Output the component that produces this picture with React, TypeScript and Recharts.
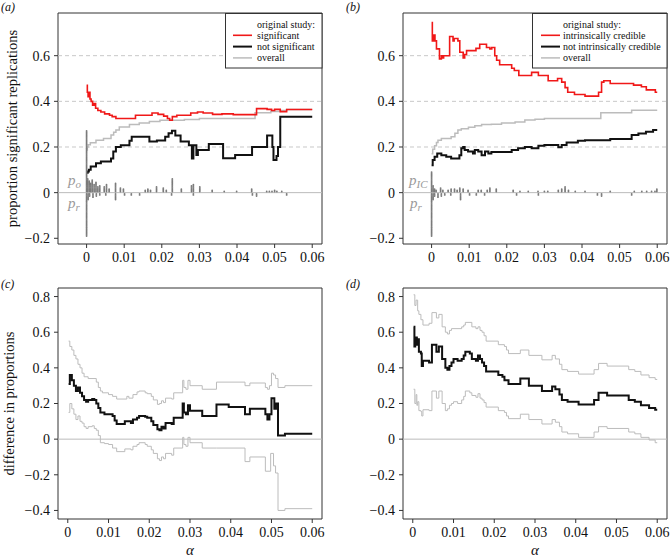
import React from 'react';
import { ComposedChart, Line, Scatter, XAxis, YAxis, ReferenceLine, ReferenceArea } from 'recharts';

type Pair = [number, number];

const alphaTicks = [0, 0.01, 0.02, 0.03, 0.04, 0.05, 0.06];
const propTicks = [-0.2, 0, 0.2, 0.4, 0.6];
const diffTicks = [-0.4, -0.2, 0, 0.2, 0.4, 0.6, 0.8];
const dashedLevels = [0.2, 0.4, 0.6];

// (a) proportion of significant replications, by significance of original study
const sigA: Pair[] = [
  [0, 0.47], [0.0002, 0.44], [0.0004, 0.42], [0.0007, 0.44], [0.0009, 0.41], [0.0012, 0.40],
  [0.0016, 0.383], [0.002, 0.39], [0.0024, 0.37], [0.003, 0.36], [0.0038, 0.353], [0.0048, 0.345],
  [0.0061, 0.339], [0.0068, 0.333], [0.0078, 0.325], [0.013, 0.339], [0.0174, 0.349], [0.019, 0.343],
  [0.0205, 0.335], [0.0215, 0.325], [0.0221, 0.317], [0.0228, 0.333], [0.024, 0.339], [0.0277, 0.349],
  [0.0295, 0.353], [0.031, 0.349], [0.0335, 0.343], [0.036, 0.345], [0.039, 0.342], [0.0452, 0.368],
  [0.048, 0.365], [0.0492, 0.36], [0.05, 0.365], [0.0515, 0.355], [0.0532, 0.364], [0.06, 0.364],
];
const notSigA: Pair[] = [
  [0, 0.087], [0.0003, 0.093], [0.0006, 0.1], [0.0011, 0.115], [0.0025, 0.129], [0.0038, 0.136],
  [0.0065, 0.15], [0.0071, 0.18], [0.0078, 0.2], [0.0091, 0.208], [0.0114, 0.227], [0.012, 0.245],
  [0.0167, 0.224], [0.0187, 0.228], [0.0209, 0.245], [0.0218, 0.26], [0.0227, 0.271], [0.0236, 0.25],
  [0.025, 0.224], [0.0272, 0.208], [0.028, 0.15], [0.0284, 0.208], [0.0292, 0.165], [0.0296, 0.187],
  [0.0325, 0.213], [0.0363, 0.151], [0.0395, 0.165], [0.044, 0.2], [0.048, 0.25], [0.0494, 0.2],
  [0.0497, 0.143], [0.0505, 0.16], [0.0509, 0.2], [0.0515, 0.332], [0.06, 0.332],
];
const overallA: Pair[] = [
  [0, 0.187], [0.0002, 0.2], [0.0004, 0.21], [0.001, 0.219], [0.0025, 0.23], [0.0045, 0.237],
  [0.0065, 0.252], [0.0072, 0.265], [0.0078, 0.274], [0.0087, 0.288], [0.0114, 0.298], [0.014, 0.305],
  [0.0167, 0.312], [0.0195, 0.317], [0.026, 0.32], [0.03, 0.325], [0.0448, 0.35], [0.049, 0.355],
  [0.0515, 0.36], [0.0532, 0.364], [0.06, 0.364],
];

// (b) by intrinsic credibility of original study
const icB: Pair[] = [
  [0, 0.745], [0.0002, 0.665], [0.0006, 0.69], [0.0009, 0.665], [0.0013, 0.63], [0.0021, 0.586],
  [0.0026, 0.6], [0.003, 0.59], [0.0032, 0.6], [0.0048, 0.684], [0.0057, 0.665], [0.006, 0.675],
  [0.007, 0.665], [0.0075, 0.615], [0.0084, 0.59], [0.0088, 0.605], [0.0093, 0.622], [0.0118, 0.632],
  [0.0128, 0.65], [0.0146, 0.636], [0.0155, 0.63], [0.016, 0.636], [0.0168, 0.6], [0.0173, 0.58],
  [0.0181, 0.56], [0.0213, 0.545], [0.022, 0.535], [0.0232, 0.513], [0.0266, 0.527], [0.0284, 0.513],
  [0.031, 0.49], [0.0335, 0.5], [0.0346, 0.484], [0.0355, 0.46], [0.0362, 0.44], [0.038, 0.43],
  [0.0408, 0.423], [0.0444, 0.44], [0.0452, 0.484], [0.0458, 0.49], [0.0475, 0.478], [0.0537, 0.471],
  [0.0558, 0.464], [0.0571, 0.45], [0.0595, 0.44], [0.06, 0.44],
];
const notIcB: Pair[] = [
  [0, 0.12], [0.0003, 0.143], [0.0008, 0.157], [0.0015, 0.172], [0.0026, 0.164], [0.0039, 0.157],
  [0.0052, 0.15], [0.0074, 0.164], [0.0079, 0.194], [0.0084, 0.2], [0.0088, 0.187], [0.0097, 0.18],
  [0.011, 0.172], [0.0115, 0.187], [0.0124, 0.18], [0.0133, 0.164], [0.0142, 0.18], [0.0151, 0.172],
  [0.0159, 0.178], [0.0213, 0.187], [0.023, 0.194], [0.0248, 0.2], [0.0266, 0.194], [0.0284, 0.205],
  [0.03, 0.209], [0.0337, 0.199], [0.0346, 0.209], [0.0359, 0.22], [0.0389, 0.227], [0.0408, 0.23],
  [0.0475, 0.235], [0.0532, 0.252], [0.055, 0.259], [0.057, 0.267], [0.0589, 0.274], [0.06, 0.274],
];
const overallB: Pair[] = [
  [0, 0.17], [0.0003, 0.19], [0.0008, 0.205], [0.0013, 0.22], [0.0017, 0.23], [0.0026, 0.237],
  [0.0052, 0.245], [0.0062, 0.26], [0.007, 0.274], [0.0079, 0.28], [0.0098, 0.287], [0.0115, 0.293],
  [0.0133, 0.298], [0.0159, 0.3], [0.0186, 0.305], [0.0222, 0.31], [0.0248, 0.318], [0.0275, 0.322],
  [0.03, 0.325], [0.045, 0.35], [0.0532, 0.361], [0.06, 0.361],
];

// stacked p-value dots: [alpha, number of studies]
const poA: Pair[] = [
  [0, 54], [0.0003, 12], [0.0007, 10], [0.0011, 8], [0.0015, 11], [0.002, 7], [0.0025, 9], [0.003, 5],
  [0.0035, 6], [0.0047, 5], [0.0053, 7], [0.006, 3], [0.0077, 8], [0.009, 4], [0.0098, 3], [0.0156, 2],
  [0.0163, 3], [0.017, 2], [0.0186, 5], [0.0204, 4], [0.0212, 2], [0.0228, 12], [0.0252, 3], [0.0279, 6],
  [0.0284, 7], [0.0301, 5], [0.0334, 2], [0.0366, 1], [0.0399, 1], [0.0439, 3], [0.0479, 1], [0.0486, 1],
  [0.0493, 1], [0.05, 2], [0.0506, 1], [0.0519, 1],
];
const pIcB: Pair[] = [
  [0, 18], [0.0004, 6], [0.0008, 3], [0.0012, 2], [0.0024, 4], [0.003, 2], [0.0044, 2], [0.0052, 3],
  [0.0061, 3], [0.0068, 2], [0.0075, 4], [0.0084, 3], [0.0097, 2], [0.0124, 2], [0.0132, 2], [0.0148, 2],
  [0.0155, 4], [0.0172, 3], [0.0217, 2], [0.0235, 1], [0.0257, 1], [0.0283, 1], [0.03, 1], [0.0309, 1],
  [0.0337, 2], [0.0346, 3], [0.0355, 5], [0.0364, 2], [0.0382, 1], [0.0408, 1], [0.0475, 1], [0.0539, 1],
  [0.0559, 1], [0.0572, 1], [0.0585, 1], [0.0594, 1], [0.0599, 3],
];
const prAll: Pair[] = [
  [0, 38], [0.0004, 6], [0.0008, 3], [0.0017, 4], [0.0026, 3], [0.0035, 2], [0.0051, 2], [0.0077, 6],
  [0.0101, 2], [0.0119, 2], [0.0141, 2], [0.0226, 2], [0.0284, 2], [0.0441, 2], [0.0452, 3], [0.0532, 2],
];

// (c) difference significant - not significant, with interval
const diffC: Pair[] = [
  [0.0002, 0.31], [0.0005, 0.36], [0.001, 0.33], [0.0015, 0.3], [0.002, 0.27], [0.0025, 0.29],
  [0.003, 0.26], [0.0035, 0.24], [0.004, 0.22], [0.0045, 0.21], [0.005, 0.22], [0.006, 0.225],
  [0.0065, 0.22], [0.007, 0.2], [0.0075, 0.175], [0.008, 0.15], [0.009, 0.14], [0.011, 0.13],
  [0.0115, 0.105], [0.012, 0.085], [0.014, 0.1], [0.0155, 0.09], [0.016, 0.11], [0.017, 0.12],
  [0.0175, 0.13], [0.019, 0.125], [0.0195, 0.12], [0.0205, 0.1], [0.021, 0.08], [0.022, 0.055],
  [0.0225, 0.05], [0.023, 0.07], [0.0235, 0.06], [0.024, 0.09], [0.0255, 0.085], [0.026, 0.12],
  [0.0282, 0.2], [0.0285, 0.15], [0.029, 0.14], [0.0295, 0.19], [0.03, 0.16], [0.033, 0.13],
  [0.0365, 0.195], [0.0395, 0.18], [0.0435, 0.14], [0.0447, 0.17], [0.0485, 0.14], [0.049, 0.11],
  [0.0495, 0.14], [0.05, 0.23], [0.0507, 0.17], [0.0511, 0.2], [0.0516, 0.02], [0.0533, 0.03], [0.06, 0.03],
];
const upperC: Pair[] = [
  [0.0002, 0.55], [0.0005, 0.52], [0.001, 0.5], [0.0015, 0.47], [0.002, 0.45], [0.0025, 0.42],
  [0.003, 0.4], [0.0035, 0.37], [0.004, 0.35], [0.005, 0.34], [0.007, 0.32], [0.0075, 0.29],
  [0.008, 0.27], [0.0085, 0.26], [0.01, 0.25], [0.011, 0.24], [0.012, 0.225], [0.0145, 0.24],
  [0.015, 0.23], [0.016, 0.25], [0.017, 0.265], [0.0175, 0.27], [0.019, 0.26], [0.0195, 0.255],
  [0.0205, 0.24], [0.021, 0.22], [0.022, 0.195], [0.0225, 0.2], [0.023, 0.215], [0.0235, 0.205],
  [0.024, 0.23], [0.0255, 0.225], [0.026, 0.26], [0.0282, 0.33], [0.0285, 0.29], [0.029, 0.28],
  [0.0295, 0.33], [0.03, 0.3], [0.033, 0.28], [0.0365, 0.32], [0.0435, 0.3], [0.0447, 0.315],
  [0.0485, 0.29], [0.049, 0.28], [0.0495, 0.3], [0.05, 0.37], [0.0505, 0.36], [0.051, 0.34],
  [0.0516, 0.29], [0.0533, 0.3], [0.06, 0.3],
];
const lowerC: Pair[] = [
  [0.0002, 0.15], [0.0005, 0.2], [0.001, 0.17], [0.0015, 0.14], [0.002, 0.11], [0.0025, 0.13],
  [0.003, 0.1], [0.0035, 0.09], [0.004, 0.07], [0.0045, 0.06], [0.005, 0.07], [0.006, 0.075],
  [0.0065, 0.06], [0.007, 0.05], [0.0075, 0.02], [0.008, -0.02], [0.009, -0.025], [0.01, -0.03],
  [0.011, -0.05], [0.012, -0.07], [0.014, -0.055], [0.0155, -0.06], [0.016, -0.04], [0.017, -0.03],
  [0.0175, -0.02], [0.019, -0.03], [0.0195, -0.04], [0.0205, -0.06], [0.021, -0.08], [0.022, -0.11],
  [0.0225, -0.12], [0.023, -0.1], [0.0235, -0.11], [0.024, -0.08], [0.0255, -0.09], [0.026, -0.05],
  [0.0282, 0.01], [0.0285, -0.03], [0.029, -0.04], [0.0295, 0.01], [0.03, -0.02], [0.033, -0.05],
  [0.0365, -0.05], [0.0435, -0.126], [0.0447, -0.1], [0.0485, -0.18], [0.0498, -0.08], [0.0505, -0.15],
  [0.051, -0.19], [0.0516, -0.4], [0.0533, -0.39], [0.06, -0.39],
];

// (d) difference intrinsically credible - not, with interval
const diffD: Pair[] = [
  [0.0002, 0.63], [0.0004, 0.52], [0.0006, 0.57], [0.001, 0.53], [0.0012, 0.56], [0.0015, 0.49],
  [0.002, 0.48], [0.0022, 0.41], [0.0025, 0.44], [0.004, 0.43], [0.0047, 0.53], [0.0058, 0.49],
  [0.0064, 0.52], [0.0072, 0.45], [0.008, 0.4], [0.0085, 0.39], [0.009, 0.41], [0.0095, 0.43],
  [0.01, 0.45], [0.011, 0.44], [0.012, 0.45], [0.0125, 0.47], [0.0129, 0.49], [0.014, 0.48],
  [0.0145, 0.45], [0.0155, 0.44], [0.016, 0.47], [0.0165, 0.45], [0.017, 0.43], [0.0175, 0.41],
  [0.018, 0.38], [0.021, 0.36], [0.022, 0.35], [0.0225, 0.33], [0.0235, 0.31], [0.0264, 0.34],
  [0.0285, 0.3], [0.0317, 0.27], [0.0342, 0.295], [0.035, 0.28], [0.036, 0.25], [0.0366, 0.22],
  [0.038, 0.21], [0.0407, 0.195], [0.0445, 0.22], [0.0456, 0.26], [0.0477, 0.245], [0.053, 0.22],
  [0.0545, 0.21], [0.056, 0.19], [0.058, 0.175], [0.0595, 0.165], [0.06, 0.165],
];
const upperD: Pair[] = [
  [0.0002, 0.81], [0.0005, 0.75], [0.0008, 0.78], [0.0012, 0.72], [0.0015, 0.7], [0.002, 0.67],
  [0.0025, 0.64], [0.004, 0.65], [0.0047, 0.71], [0.0058, 0.68], [0.0064, 0.7], [0.0072, 0.63],
  [0.008, 0.6], [0.0085, 0.59], [0.009, 0.61], [0.0095, 0.62], [0.012, 0.63], [0.0125, 0.64],
  [0.0129, 0.655], [0.0145, 0.63], [0.0155, 0.62], [0.016, 0.63], [0.0165, 0.61], [0.017, 0.6],
  [0.0175, 0.58], [0.018, 0.55], [0.021, 0.53], [0.0225, 0.52], [0.023, 0.5], [0.0235, 0.48],
  [0.0264, 0.5], [0.0285, 0.47], [0.0317, 0.445], [0.0342, 0.47], [0.035, 0.45], [0.036, 0.42],
  [0.0366, 0.39], [0.038, 0.38], [0.0407, 0.365], [0.0445, 0.39], [0.0456, 0.425], [0.0477, 0.41],
  [0.053, 0.39], [0.0545, 0.38], [0.056, 0.36], [0.058, 0.345], [0.0595, 0.335], [0.06, 0.335],
];
const lowerD: Pair[] = [
  [0.0002, 0.28], [0.0005, 0.2], [0.0008, 0.25], [0.001, 0.19], [0.0012, 0.21], [0.0015, 0.16],
  [0.002, 0.155], [0.0022, 0.13], [0.0025, 0.165], [0.004, 0.16], [0.0047, 0.27], [0.0058, 0.23],
  [0.0064, 0.27], [0.0072, 0.2], [0.008, 0.16], [0.0085, 0.17], [0.009, 0.19], [0.0095, 0.2],
  [0.01, 0.21], [0.011, 0.2], [0.012, 0.22], [0.0125, 0.24], [0.0129, 0.27], [0.014, 0.26],
  [0.0145, 0.245], [0.0155, 0.235], [0.016, 0.255], [0.0165, 0.23], [0.017, 0.22], [0.0175, 0.205],
  [0.018, 0.18], [0.021, 0.16], [0.0225, 0.15], [0.023, 0.13], [0.0235, 0.115], [0.0264, 0.14],
  [0.0285, 0.11], [0.0317, 0.085], [0.0342, 0.11], [0.035, 0.095], [0.036, 0.07], [0.0366, 0.04],
  [0.038, 0.03], [0.0407, 0.01], [0.0445, 0.04], [0.0456, 0.07], [0.0477, 0.06], [0.053, 0.04],
  [0.0545, 0.03], [0.056, 0.01], [0.058, -0.005], [0.0595, -0.02], [0.06, -0.02],
];

const RED = '#f01818';
const BLACK = '#111111';
const GREY = '#bcbcbc';
const DOT = '#7a7a7a';
const BOX = '#333333';
const SERIF = '"Liberation Serif", "DejaVu Serif", serif';

const toPts = (arr: Pair[]) => arr.map(([x, y]) => ({ x, y }));
const DOT_STEP = 0.005;
const stack = (arr: Pair[], dir: number) =>
  arr.flatMap(([x, n]) => Array.from({ length: n }, (_, k) => ({ x, y: dir * DOT_STEP * (k + 1) })));

const fmt = (v: number) => (v === 0 ? '0' : (v < 0 ? '\u2212' : '') + String(Math.abs(v)));
const tickStyle = { fill: '#111', fontSize: 14, fontFamily: SERIF };
const dotShape = (p: any) => <circle cx={p.cx} cy={p.cy} r={0.9} fill={DOT} />;

interface SeriesDef { data: Pair[]; color: string; width: number }

interface PanelProps {
  left: number; top: number;
  plotLeft: number; plotRight: number; plotTop: number; plotBottom: number;
  xDomain: [number, number]; yDomain: [number, number]; yTicks: number[];
  dashed?: number[]; series: SeriesDef[]; dots?: { x: number; y: number }[];
}

const W = 335;
const H = 280;

const Panel = ({ left, top, plotLeft, plotRight, plotTop, plotBottom, xDomain, yDomain, yTicks, dashed = [], series, dots }: PanelProps) => (
  <div style={{ position: 'absolute', left, top }}>
    <ComposedChart width={W} height={H} margin={{ top: plotTop, right: W - plotRight, bottom: 0, left: 0 }}>
      <XAxis type="number" dataKey="x" domain={xDomain} ticks={alphaTicks} allowDataOverflow interval={0}
        axisLine={false} tickLine={{ stroke: BOX }} tickSize={4} tickMargin={4} height={H - plotBottom}
        tick={tickStyle} tickFormatter={fmt} />
      <YAxis type="number" dataKey="y" domain={yDomain} ticks={yTicks} allowDataOverflow interval={0}
        axisLine={false} tickLine={{ stroke: BOX }} tickSize={4} tickMargin={4} width={plotLeft}
        tick={tickStyle} tickFormatter={fmt} />
      {dashed.map((v) => (
        <ReferenceLine key={v} y={v} stroke="#c8c8c8" strokeDasharray="4 3" />
      ))}
      <ReferenceLine y={0} stroke="#bbbbbb" />
      {dots && <Scatter data={dots} shape={dotShape} isAnimationActive={false} />}
      {series.map((s, i) => (
        <Line key={i} data={toPts(s.data)} dataKey="y" type="stepAfter" stroke={s.color} strokeWidth={s.width}
          dot={false} activeDot={false} isAnimationActive={false} />
      ))}
      <ReferenceArea x1={xDomain[0]} x2={xDomain[1]} y1={yDomain[0]} y2={yDomain[1]} fill="none" stroke={BOX} strokeWidth={1} ifOverflow="visible" />
    </ComposedChart>
  </div>
);

const LegendBox = ({ x, y, w, lineX, textX, labels }: { x: number; y: number; w: number; lineX: number; textX: number; labels: { text: string; color?: string; width?: number }[] }) => (
  <g>
    <rect x={x + 0.5} y={y + 0.5} width={w} height={54.5} fill="#fff" stroke={BOX} />
    {labels.map((l, i) => (
      <g key={i}>
        {l.color && <line x1={lineX} x2={lineX + 19} y1={y + 11 + i * 11.3} y2={y + 11 + i * 11.3} stroke={l.color} strokeWidth={l.width} />}
        <text x={textX} y={y + 14.5 + i * 11.3} fontSize={10} fontFamily={SERIF} fill="#111">{l.text}</text>
      </g>
    ))}
  </g>
);

const PLabel = ({ x, y, sub }: { x: number; y: number; sub: string }) => (
  <text x={x} y={y} fontSize={15} fontFamily={SERIF} fontStyle="italic" fill="#9a9a9a">
    p<tspan dy={3} fontSize={11}>{sub}</tspan>
  </text>
);

export default function App() {
  const xWide: [number, number] = [-0.0076, 0.0626];
  const xNarrow: [number, number] = [-0.0024, 0.0624];
  const yProp: [number, number] = [-0.225, 0.787];
  const yDiff: [number, number] = [-0.448, 0.848];
  const prDots = stack(prAll, -1);

  return (
    <div style={{ position: 'absolute', left: 0, top: 0, width: 670, height: 560, background: '#fff' }}>
      <Panel left={0} top={0} plotLeft={58} plotRight={322} plotTop={13} plotBottom={244}
        xDomain={xWide} yDomain={yProp} yTicks={propTicks} dashed={dashedLevels}
        dots={[...stack(poA, 1), ...prDots]}
        series={[
          { data: overallA, color: GREY, width: 1.5 },
          { data: notSigA, color: BLACK, width: 2 },
          { data: sigA, color: RED, width: 1.6 },
        ]} />
      <Panel left={335} top={0} plotLeft={68} plotRight={332} plotTop={13} plotBottom={244}
        xDomain={xWide} yDomain={yProp} yTicks={propTicks} dashed={dashedLevels}
        dots={[...stack(pIcB, 1), ...prDots]}
        series={[
          { data: overallB, color: GREY, width: 1.5 },
          { data: notIcB, color: BLACK, width: 2 },
          { data: icB, color: RED, width: 1.6 },
        ]} />
      <Panel left={0} top={280} plotLeft={58} plotRight={322} plotTop={8} plotBottom={239}
        xDomain={xNarrow} yDomain={yDiff} yTicks={diffTicks}
        series={[
          { data: upperC, color: GREY, width: 1 },
          { data: lowerC, color: GREY, width: 1 },
          { data: diffC, color: BLACK, width: 2 },
        ]} />
      <Panel left={335} top={280} plotLeft={68} plotRight={332} plotTop={8} plotBottom={239}
        xDomain={xNarrow} yDomain={yDiff} yTicks={diffTicks}
        series={[
          { data: upperD, color: GREY, width: 1 },
          { data: lowerD, color: GREY, width: 1 },
          { data: diffD, color: BLACK, width: 2 },
        ]} />
      <svg width={670} height={560} style={{ position: 'absolute', left: 0, top: 0, pointerEvents: 'none' }}>
        <g fontFamily={SERIF} fontStyle="italic" fontSize={12} fill="#111">
          <text x={1} y={11}>(a)</text>
          <text x={346} y={11}>(b)</text>
          <text x={1} y={288}>(c)</text>
          <text x={346} y={288}>(d)</text>
        </g>
        <text x={17} y={128.5} transform="rotate(-90, 17, 128.5)" textAnchor="middle" fontSize={14.5} fontFamily={SERIF} fill="#111">
          proportion significant replications
        </text>
        <text x={14} y={403.5} transform="rotate(-90, 14, 403.5)" textAnchor="middle" fontSize={14.5} fontFamily={SERIF} fill="#111">
          difference in proportions
        </text>
        <text x={190} y={555} textAnchor="middle" fontSize={15} fontFamily={SERIF} fontStyle="italic" fill="#111">α</text>
        <text x={535} y={555} textAnchor="middle" fontSize={15} fontFamily={SERIF} fontStyle="italic" fill="#111">α</text>
        <PLabel x={68} y={185} sub="o" />
        <PLabel x={68} y={208} sub="r" />
        <PLabel x={409} y={185} sub="IC" />
        <PLabel x={410} y={208} sub="r" />
        <LegendBox x={225} y={13} w={96.5} lineX={233} textX={257} labels={[
          { text: 'original study:' },
          { text: 'significant', color: RED, width: 1.6 },
          { text: 'not significant', color: BLACK, width: 2 },
          { text: 'overall', color: GREY, width: 1.5 },
        ]} />
        <LegendBox x={532} y={13} w={134.5} lineX={541} textX={563} labels={[
          { text: 'original study:' },
          { text: 'intrinsically credible', color: RED, width: 1.6 },
          { text: 'not intrinsically credible', color: BLACK, width: 2 },
          { text: 'overall', color: GREY, width: 1.5 },
        ]} />
      </svg>
    </div>
  );
}
